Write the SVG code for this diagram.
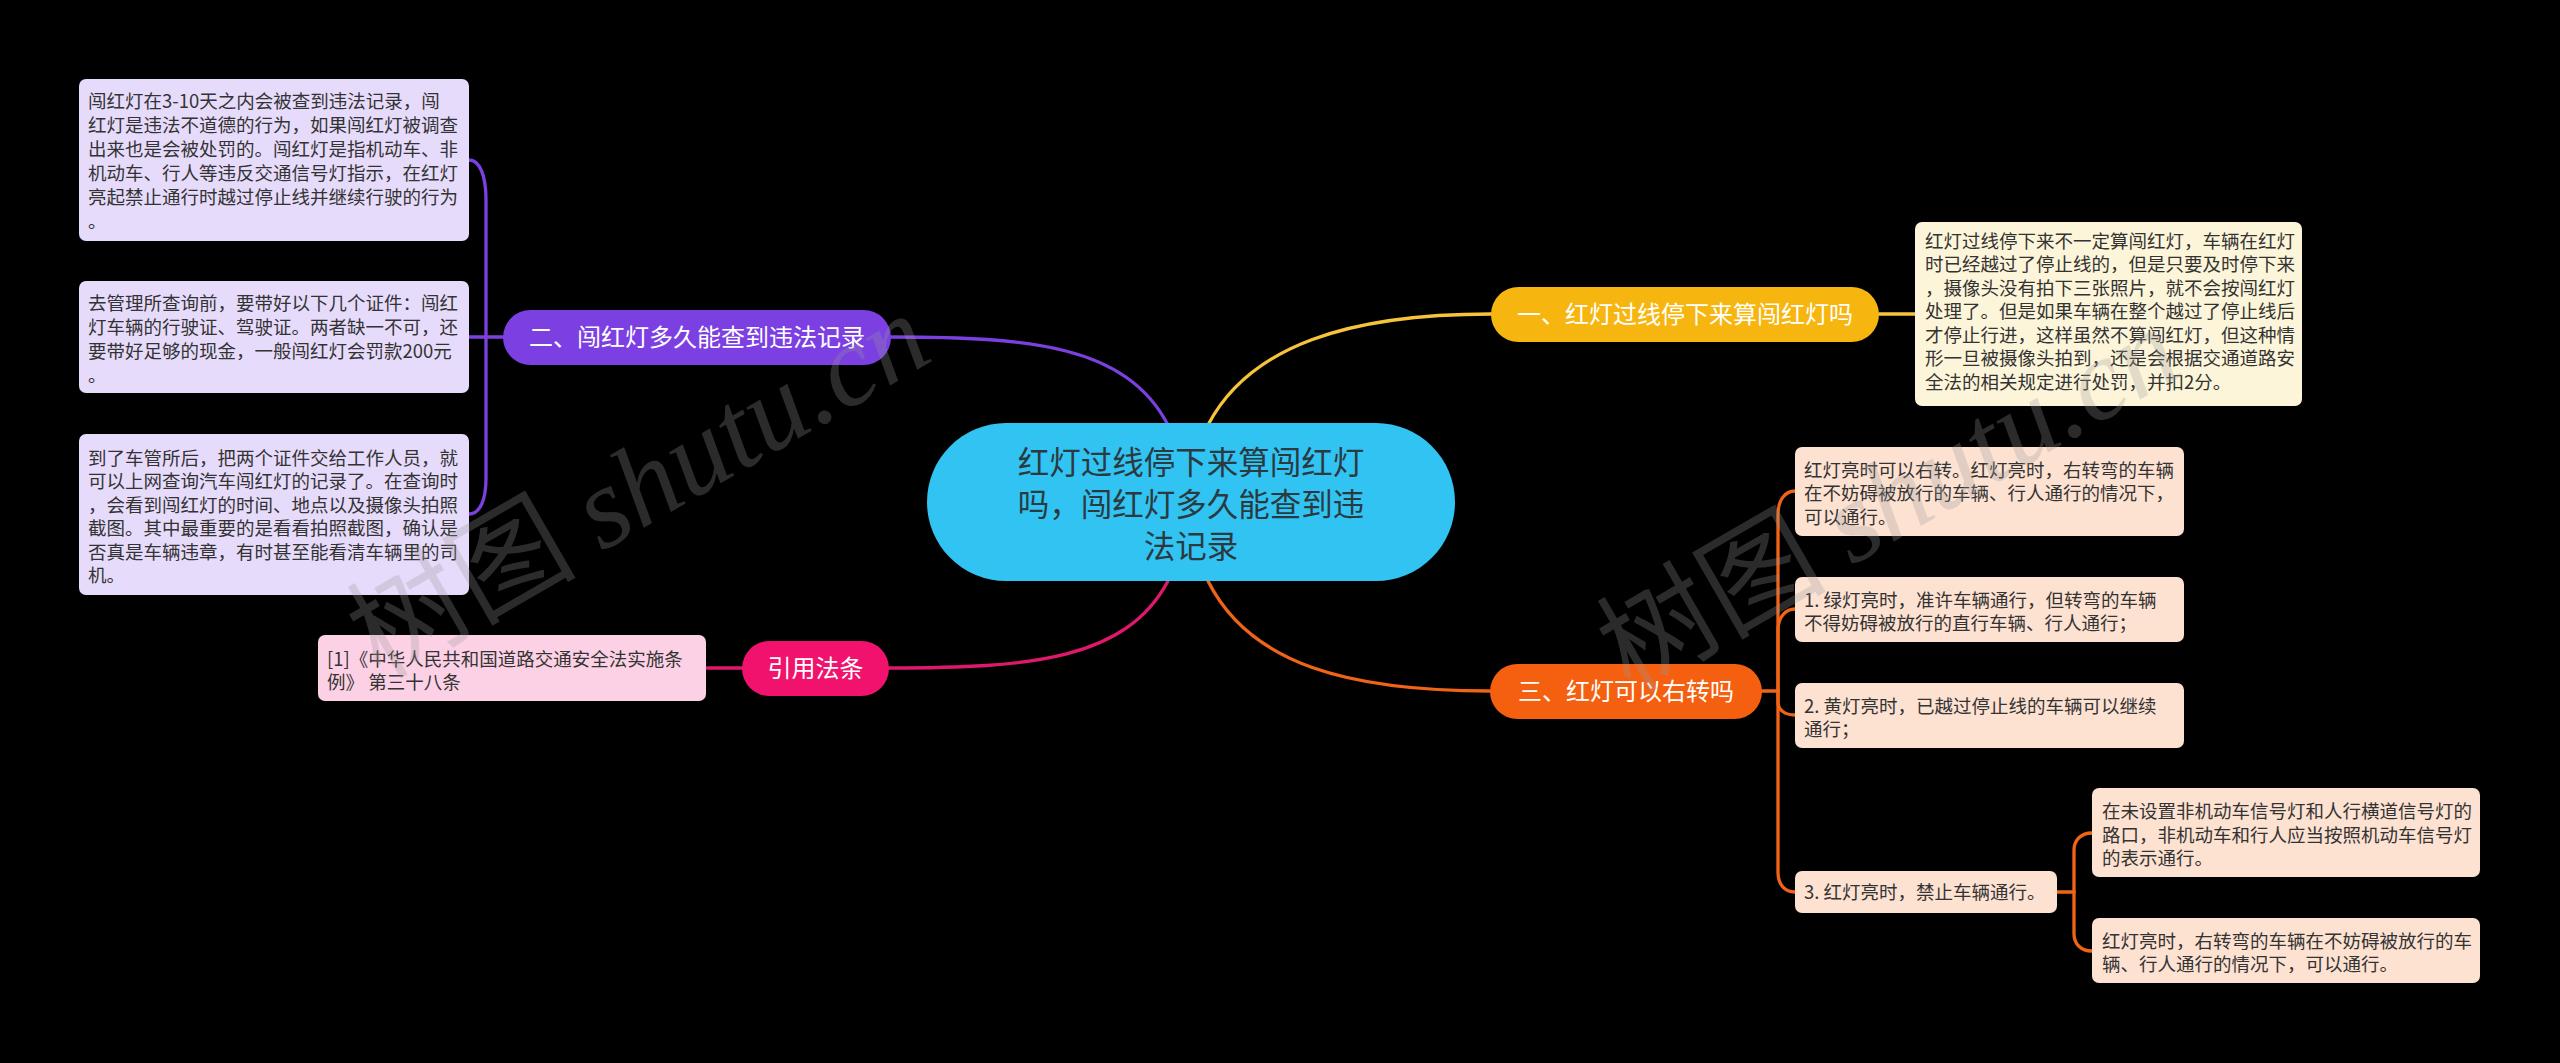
<svg xmlns="http://www.w3.org/2000/svg" width="2560" height="1063" viewBox="0 0 2560 1063">
<style>
text{font-family:"Noto Sans CJK SC","Noto Sans",sans-serif;}
.box{font-size:18.5px;fill:#333333;}
.pill{font-size:24px;fill:#ffffff;text-anchor:middle;}
.c{fill:none;stroke-width:3.3;stroke-linecap:round;}
.wm{fill:#9a9a9a;opacity:0.28;}
</style>
<rect x="0" y="0" width="2560" height="1063" fill="#000000"/>
<g id="connectors">
<path class="c" stroke="#f6c33a" d="M1208,425 C1250,345 1350,314 1491,314"/>
<path class="c" stroke="#7d40e0" d="M1168,425 C1126,345 1030,337 891,337"/>
<path class="c" stroke="#e0186c" d="M1168,581 C1126,660 1030,668 889,668"/>
<path class="c" stroke="#f06418" d="M1208,581 C1250,665 1350,691 1490,691"/>
<path class="c" stroke="#f6c33a" d="M1879,314 H1915"/>
<path class="c" stroke="#e0186c" d="M742,668 H706"/>
<path class="c" stroke="#7d40e0" d="M503,337 H469"/>
<path class="c" stroke="#7d40e0" d="M486,337 V200 C486,176 480,160 469,160"/>
<path class="c" stroke="#7d40e0" d="M486,337 V478 C486,500 480,514 469,514"/>
<path class="c" stroke="#f06418" d="M1762,691 H1778"/>
<path class="c" stroke="#f06418" d="M1778,691 V515 C1778,500 1785,491 1795,491"/>
<path class="c" stroke="#f06418" d="M1778,691 V630 C1778,618 1785,609 1795,609"/>
<path class="c" stroke="#f06418" d="M1778,691 V702 C1778,710 1785,715 1795,715"/>
<path class="c" stroke="#f06418" d="M1778,691 V872 C1778,885 1785,892 1795,892"/>
<path class="c" stroke="#f06418" d="M2057,892 H2074"/>
<path class="c" stroke="#f06418" d="M2074,892 V850 C2074,840 2081,833 2092,833"/>
<path class="c" stroke="#f06418" d="M2074,892 V934 C2074,944 2081,951 2092,951"/>
</g>
<g id="root">
<rect x="927" y="423" width="528" height="158" rx="79" fill="#31c3f2"/>
<text x="1191" y="474" font-size="31.5" fill="#2b3a40" text-anchor="middle">红灯过线停下来算闯红灯</text>
<text x="1191" y="516" font-size="31.5" fill="#2b3a40" text-anchor="middle">吗，闯红灯多久能查到违</text>
<text x="1191" y="558" font-size="31.5" fill="#2b3a40" text-anchor="middle">法记录</text>
</g>
<g id="b1">
<rect x="1491" y="287" width="388" height="55" rx="27.5" fill="#f7b60f"/>
<text class="pill" x="1685" y="322.5">一、红灯过线停下来算闯红灯吗</text>
</g>
<g id="b1c">
<rect x="1915" y="222" width="387" height="184" rx="7" fill="#fdf5d9"/>
<text class="box" x="1925" y="247.5">红灯过线停下来不一定算闯红灯，车辆在红灯</text>
<text class="box" x="1925" y="271">时已经越过了停止线的，但是只要及时停下来</text>
<text class="box" x="1925" y="294.5">，摄像头没有拍下三张照片，就不会按闯红灯</text>
<text class="box" x="1925" y="318">处理了。但是如果车辆在整个越过了停止线后</text>
<text class="box" x="1925" y="341.5">才停止行进，这样虽然不算闯红灯，但这种情</text>
<text class="box" x="1925" y="365">形一旦被摄像头拍到，还是会根据交通道路安</text>
<text class="box" x="1925" y="388.5">全法的相关规定进行处罚，并扣2分。</text>
</g>
<g id="b2">
<rect x="503" y="310" width="388" height="55" rx="27.5" fill="#7c3fe2"/>
<text class="pill" x="697" y="345.5">二、闯红灯多久能查到违法记录</text>
</g>
<g id="b2a">
<rect x="79" y="79" width="390" height="162" rx="7" fill="#e7dbfc"/>
<text class="box" x="88" y="107.5">闯红灯在3-10天之内会被查到违法记录，闯</text>
<text class="box" x="88" y="131.5">红灯是违法不道德的行为，如果闯红灯被调查</text>
<text class="box" x="88" y="155.5">出来也是会被处罚的。闯红灯是指机动车、非</text>
<text class="box" x="88" y="179.5">机动车、行人等违反交通信号灯指示，在红灯</text>
<text class="box" x="88" y="203.5">亮起禁止通行时越过停止线并继续行驶的行为</text>
<text class="box" x="88" y="227.5">。</text>
</g>
<g id="b2b">
<rect x="79" y="281" width="390" height="112" rx="7" fill="#e7dbfc"/>
<text class="box" x="88" y="309.5">去管理所查询前，要带好以下几个证件：闯红</text>
<text class="box" x="88" y="333.5">灯车辆的行驶证、驾驶证。两者缺一不可，还</text>
<text class="box" x="88" y="357.5">要带好足够的现金，一般闯红灯会罚款200元</text>
<text class="box" x="88" y="381.5">。</text>
</g>
<g id="b2c">
<rect x="79" y="434" width="390" height="161" rx="7" fill="#e7dbfc"/>
<text class="box" x="88" y="464.5">到了车管所后，把两个证件交给工作人员，就</text>
<text class="box" x="88" y="488">可以上网查询汽车闯红灯的记录了。在查询时</text>
<text class="box" x="88" y="511.5">，会看到闯红灯的时间、地点以及摄像头拍照</text>
<text class="box" x="88" y="535">截图。其中最重要的是看看拍照截图，确认是</text>
<text class="box" x="88" y="558.5">否真是车辆违章，有时甚至能看清车辆里的司</text>
<text class="box" x="88" y="582">机。</text>
</g>
<g id="b4">
<rect x="742" y="641" width="147" height="55" rx="27.5" fill="#f0126d"/>
<text class="pill" x="815.5" y="676.5">引用法条</text>
</g>
<g id="b4c">
<rect x="318" y="635" width="388" height="66" rx="7" fill="#fdd1e5"/>
<text class="box" x="327" y="665.5">[1]《中华人民共和国道路交通安全法实施条</text>
<text class="box" x="327" y="688.5">例》 第三十八条</text>
</g>
<g id="b3">
<rect x="1490" y="664" width="272" height="55" rx="27.5" fill="#f55f10"/>
<text class="pill" x="1626" y="699.5">三、红灯可以右转吗</text>
</g>
<g id="b3a">
<rect x="1795" y="447" width="389" height="89" rx="7" fill="#fde1d1"/>
<text class="box" x="1804" y="476.5">红灯亮时可以右转。红灯亮时，右转弯的车辆</text>
<text class="box" x="1804" y="500">在不妨碍被放行的车辆、行人通行的情况下，</text>
<text class="box" x="1804" y="523.5">可以通行。</text>
</g>
<g id="b3b">
<rect x="1795" y="577" width="389" height="65" rx="7" fill="#fde1d1"/>
<text class="box" x="1804" y="606.5">1. 绿灯亮时，准许车辆通行，但转弯的车辆</text>
<text class="box" x="1804" y="630">不得妨碍被放行的直行车辆、行人通行；</text>
</g>
<g id="b3c">
<rect x="1795" y="683" width="389" height="65" rx="7" fill="#fde1d1"/>
<text class="box" x="1804" y="712.5">2. 黄灯亮时，已越过停止线的车辆可以继续</text>
<text class="box" x="1804" y="736">通行；</text>
</g>
<g id="b3d">
<rect x="1795" y="871" width="262" height="42" rx="7" fill="#fde1d1"/>
<text class="box" x="1804" y="898.5">3. 红灯亮时，禁止车辆通行。</text>
</g>
<g id="b3d1">
<rect x="2092" y="788" width="388" height="89" rx="7" fill="#fde1d1"/>
<text class="box" x="2102" y="818">在未设置非机动车信号灯和人行横道信号灯的</text>
<text class="box" x="2102" y="841.5">路口，非机动车和行人应当按照机动车信号灯</text>
<text class="box" x="2102" y="865">的表示通行。</text>
</g>
<g id="b3d2">
<rect x="2092" y="918" width="388" height="65" rx="7" fill="#fde1d1"/>
<text class="box" x="2102" y="947.5">红灯亮时，右转弯的车辆在不妨碍被放行的车</text>
<text class="box" x="2102" y="971">辆、行人通行的情况下，可以通行。</text>
</g>
<g id="watermark">
<text class="wm" x="380" y="680" font-size="115" transform="rotate(-30 380 680)">树图 <tspan font-family="Liberation Serif" font-style="italic">shutu.cn</tspan></text>
<text class="wm" x="1630" y="694" font-size="115" transform="rotate(-30 1630 694)">树图 <tspan font-family="Liberation Serif" font-style="italic">shutu.cn</tspan></text>
</g>
</svg>
